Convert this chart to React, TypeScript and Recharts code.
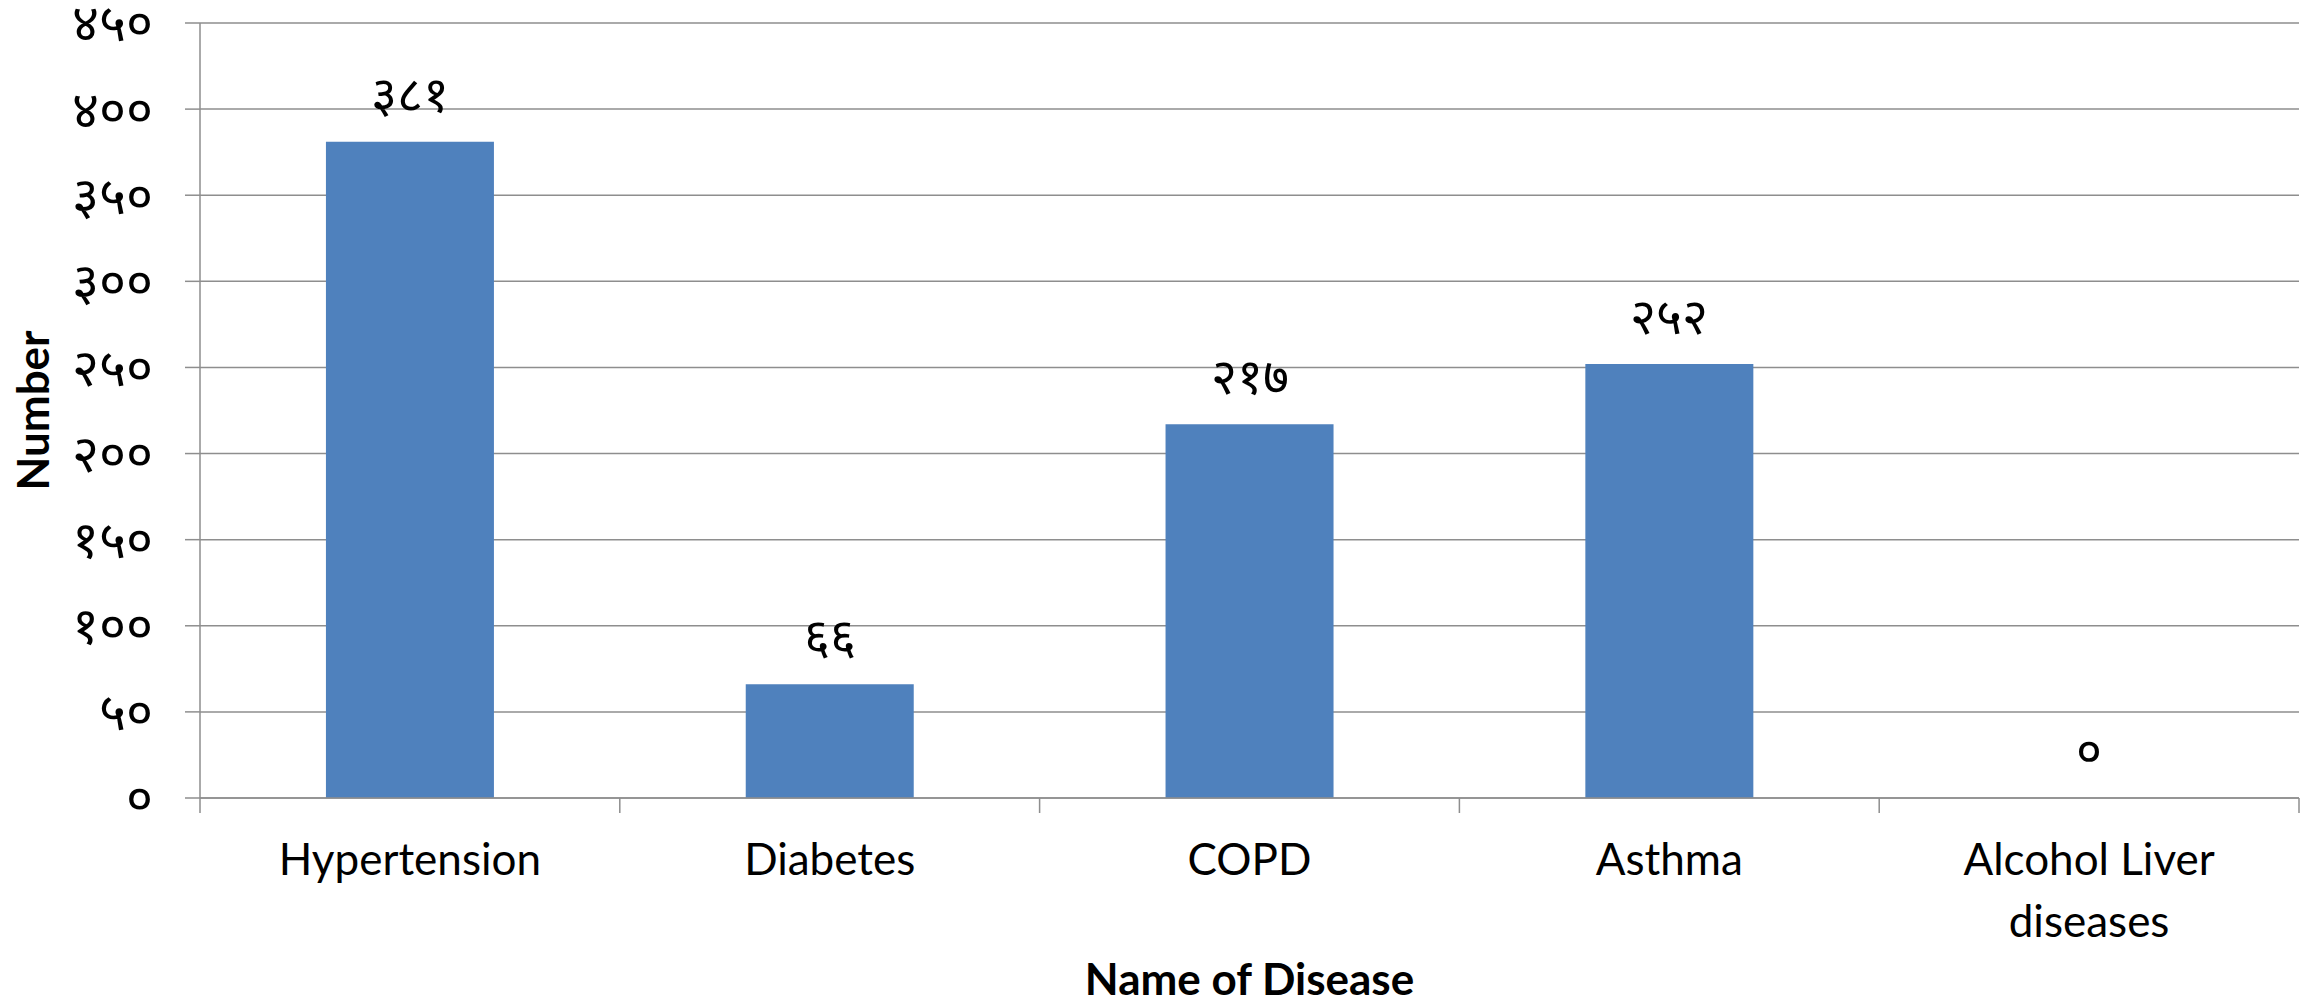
import { Bar, CartesianGrid, ComposedChart, Label, LabelList, Line, XAxis, YAxis } from 'recharts';

const diseases = ['Hypertension', 'Diabetes', 'COPD', 'Asthma', 'Alcohol Liver diseases'];
const counts = [381, 66, 217, 252, 0];
const yTicks = [0, 50, 100, 150, 200, 250, 300, 350, 400, 450];
const boundaryTicks = [0, 1, 2, 3, 4, 5];

const DEVANAGARI = ['०', '१', '२', '३', '४', '५', '६', '७', '८', '९'];
const toNepali = (v: number | string) =>
  String(v).replace(/[0-9]/g, (d) => DEVANAGARI[Number(d)]);

const data = diseases.map((name, i) => ({ name, slot: i + 0.5, count: counts[i] }));

const LATIN = 'Lato, "Open Sans", sans-serif';
const GRID = '#8e8e8e';

function DiseaseTick({ x, y, payload }: any) {
  const words = String(payload.value).split(' ');
  const lines = words.length > 2 ? [words.slice(0, 2).join(' '), words.slice(2).join(' ')] : [payload.value];
  return (
    <text x={x} y={y} textAnchor="middle" fontFamily={LATIN} fontSize={44} fill="#000">
      {lines.map((l: string, i: number) => (
        <tspan key={i} x={x} dy={i === 0 ? 54 : 62}>
          {l}
        </tspan>
      ))}
    </text>
  );
}

export default function App() {
  return (
    <div style={{ position: 'absolute', left: 0, top: 0, background: '#fff' }}>
      <ComposedChart
        width={2310}
        height={1008}
        data={data}
        margin={{ top: 23, right: 11, left: 0, bottom: 0 }}
        barCategoryGap="30%"
      >
        <CartesianGrid vertical={false} stroke={GRID} strokeWidth={1.5} />
        {/* boundary ticks between categories, sits right on the plot edge */}
        <XAxis
          xAxisId={0}
          dataKey="slot"
          type="number"
          domain={[0, 5]}
          ticks={boundaryTicks}
          height={15}
          tickSize={15}
          tickFormatter={() => ''}
          stroke={GRID}
          strokeWidth={1.5}
          axisLine={{ stroke: GRID, strokeWidth: 1.5 }}
        />
        <XAxis
          xAxisId={1}
          dataKey="name"
          height={195}
          axisLine={false}
          tickLine={false}
          interval={0}
          tick={<DiseaseTick />}
        >
          <Label
            value="Name of Disease"
            position="insideBottom"
            offset={13}
            style={{ fontFamily: LATIN, fontSize: 44, fontWeight: 700, fill: '#000' }}
          />
        </XAxis>
        <YAxis
          width={200}
          domain={[0, 450]}
          ticks={yTicks}
          interval={0}
          tickSize={15}
          tickMargin={32}
          tickFormatter={toNepali}
          stroke={GRID}
          strokeWidth={1.5}
          tick={{ fill: '#000', fontSize: 52 }}
        >
          <Label
            value="Number"
            angle={-90}
            position="center"
            dx={-67}
            style={{ fontFamily: LATIN, fontSize: 44, fontWeight: 700, fill: '#000' }}
          />
        </YAxis>
        <Bar xAxisId={1} dataKey="count" fill="#4F81BD" isAnimationActive={false} />
        <Line
          xAxisId={1}
          dataKey="count"
          stroke="none"
          dot={false}
          activeDot={false}
          legendType="none"
          isAnimationActive={false}
        >
          <LabelList
            dataKey="count"
            position="top"
            offset={30}
            formatter={toNepali}
            style={{ fill: '#000', fontSize: 50 }}
          />
        </Line>
      </ComposedChart>
    </div>
  );
}
